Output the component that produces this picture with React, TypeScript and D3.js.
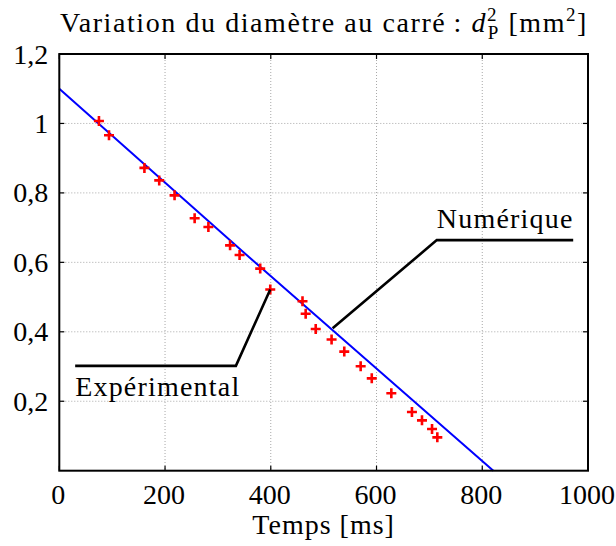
import React, { useEffect, useRef } from 'react';
import * as d3 from 'd3';

// experimental points (time in ms, d^2 in mm^2)
const expTime = [75, 94, 161, 189, 218, 256, 282, 323, 341, 380, 399, 460, 466, 485, 515, 539, 570, 591, 628, 667, 686, 705, 715];
const expD2 = [1.007, 0.966, 0.872, 0.836, 0.793, 0.727, 0.702, 0.649, 0.621, 0.582, 0.522, 0.488, 0.452, 0.408, 0.378, 0.343, 0.301, 0.266, 0.223, 0.169, 0.145, 0.12, 0.096];

// numerical solution
const numTime = [0, 370, 821];
const numD2 = [1.1, 0.6, 0];

const xTicks = [0, 200, 400, 600, 800, 1000];
const xTickLabels = ['0', '200', '400', '600', '800', '1000'];
const yTicks = [0.2, 0.4, 0.6, 0.8, 1, 1.2];
const yTickLabels = ['0,2', '0,4', '0,6', '0,8', '1', '1,2'];

// annotation leader lines, in data coordinates
const numLabelPath: [number, number][] = [[972, 0.664], [714, 0.664], [517, 0.41]];
const expLabelPath: [number, number][] = [[30, 0.302], [334, 0.302], [399, 0.522]];

const FONT = 'Liberation Serif, DejaVu Serif, Times New Roman, serif';

export default function App() {
  const svgRef = useRef<SVGSVGElement>(null);

  useEffect(() => {
    if (!svgRef.current) return;
    const width = 616;
    const height = 546;
    const left = 59.3, right = 588, top = 54, bottom = 470.7;

    const svg = d3.select(svgRef.current);
    svg.selectAll('*').remove();
    svg.attr('width', width).attr('height', height)
      .style('font-family', FONT);

    svg.append('rect').attr('width', width).attr('height', height).attr('fill', '#fff');

    const x = d3.scaleLinear().domain([0, 1000]).range([left, right]);
    const y = d3.scaleLinear().domain([0, 1.2]).range([bottom, top]);

    // grid
    const grid = svg.append('g').attr('stroke', '#a8a8a8').attr('stroke-width', 1).attr('stroke-dasharray', '1,2');
    grid.selectAll('line.gx')
      .data(xTicks.filter(t => t > 0 && t < 1000))
      .enter().append('line')
      .attr('x1', d => x(d)).attr('x2', d => x(d))
      .attr('y1', top).attr('y2', bottom);
    grid.selectAll('line.gy')
      .data(yTicks.filter(t => t < 1.2))
      .enter().append('line')
      .attr('y1', d => y(d)).attr('y2', d => y(d))
      .attr('x1', left).attr('x2', right);

    // inward ticks on all sides
    const ticks = svg.append('g').attr('stroke', '#000').attr('stroke-width', 1.2);
    xTicks.forEach(t => {
      ticks.append('line').attr('x1', x(t)).attr('x2', x(t)).attr('y1', bottom).attr('y2', bottom - 5);
      ticks.append('line').attr('x1', x(t)).attr('x2', x(t)).attr('y1', top).attr('y2', top + 5);
    });
    yTicks.forEach(t => {
      ticks.append('line').attr('y1', y(t)).attr('y2', y(t)).attr('x1', left).attr('x2', left + 5);
      ticks.append('line').attr('y1', y(t)).attr('y2', y(t)).attr('x1', right).attr('x2', right - 5);
    });

    // numerical line
    const line = d3.line<number>()
      .x((_d, i) => x(numTime[i]))
      .y(d => y(d));
    svg.append('path')
      .datum(numD2)
      .attr('d', line)
      .attr('fill', 'none')
      .attr('stroke', '#0000ff')
      .attr('stroke-width', 2);

    // experimental crosses
    svg.append('g')
      .selectAll('path')
      .data(expD2)
      .enter().append('path')
      .attr('transform', (d, i) => `translate(${x(expTime[i])},${y(d)})`)
      .attr('d', 'M-5,0H5M0,-5V5')
      .attr('stroke', '#ff0000')
      .attr('stroke-width', 2.6);

    // annotation leaders
    const lead = d3.line<[number, number]>().x(d => x(d[0])).y(d => y(d[1]));
    [numLabelPath, expLabelPath].forEach(p => {
      svg.append('path')
        .datum(p)
        .attr('d', lead)
        .attr('fill', 'none')
        .attr('stroke', '#000')
        .attr('stroke-width', 2.6);
    });

    const txt = (sel: d3.Selection<SVGTextElement, unknown, null, undefined>) =>
      sel.style('font-family', FONT).attr('font-size', 28).attr('fill', '#000');

    svg.append('text').call(txt)
      .attr('x', x(numLabelPath[1][0]))
      .attr('y', y(numLabelPath[1][1]) - 12)
      .attr('letter-spacing', 1.2)
      .text('Numérique');

    svg.append('text').call(txt)
      .attr('x', x(expLabelPath[0][0]))
      .attr('y', y(expLabelPath[0][1]) + 30)
      .attr('letter-spacing', 1.2)
      .text('Expérimental');

    // frame
    svg.append('rect')
      .attr('x', left).attr('y', top)
      .attr('width', right - left).attr('height', bottom - top)
      .attr('fill', 'none').attr('stroke', '#000').attr('stroke-width', 2);

    // tick labels
    svg.append('g').selectAll('text')
      .data(xTicks)
      .enter().append('text')
      .style('font-family', FONT).attr('font-size', 28)
      .attr('text-anchor', 'middle')
      .attr('x', d => x(d) - 1)
      .attr('y', bottom + 33)
      .text((_d, i) => xTickLabels[i]);

    svg.append('g').selectAll('text')
      .data(yTicks)
      .enter().append('text')
      .style('font-family', FONT).attr('font-size', 28)
      .attr('text-anchor', 'end')
      .attr('dominant-baseline', 'central')
      .attr('x', left - 11)
      .attr('y', d => y(d))
      .text((_d, i) => yTickLabels[i]);

    // axis title
    svg.append('text').call(txt)
      .attr('x', (left + right) / 2)
      .attr('y', 534)
      .attr('text-anchor', 'middle')
      .attr('letter-spacing', 1)
      .text('Temps [ms]');

    // title with math, stretched to span x=60..588 like the reference
    const title = svg.append('text').call(txt)
      .attr('x', 60)
      .attr('y', 32);
    title.append('tspan').text('Variation du diamètre au carré\u2009: ');
    title.append('tspan').attr('font-style', 'italic').text('d');
    title.append('tspan').attr('font-size', 19).attr('dy', -11).text('2');
    title.append('tspan').attr('font-size', 19).attr('dx', -10.5).attr('dy', 18).text('P');
    title.append('tspan').attr('dy', -7).text(' [mm');
    title.append('tspan').attr('font-size', 19).attr('dy', -11).text('2');
    title.append('tspan').attr('dy', 11).text(']');
    const tnode = title.node();
    if (tnode) {
      const w = tnode.getBBox().width;
      const n = (tnode.textContent || '').length;
      const ls = Math.max(0, (528 - w) / n);
      title.attr('letter-spacing', ls.toFixed(2));
    }
  }, []);

  return <svg ref={svgRef} style={{ position: 'absolute', left: 0, top: 0, display: 'block' }} />;
}
